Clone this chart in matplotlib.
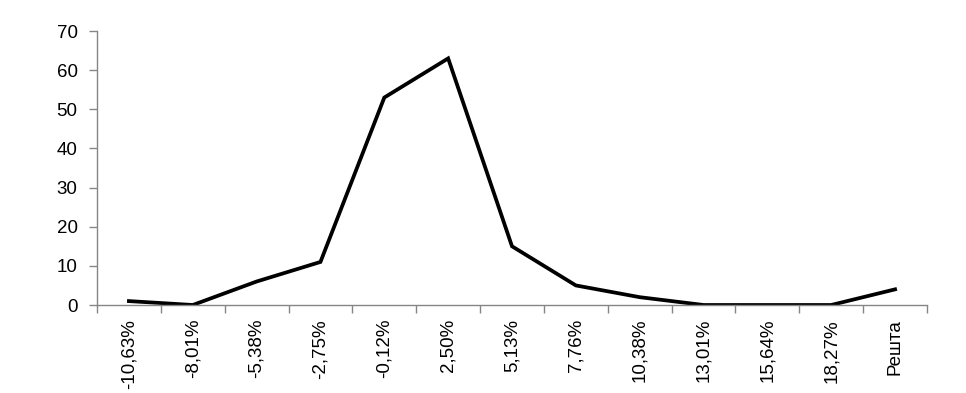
import matplotlib
matplotlib.use("Agg")
import matplotlib.pyplot as plt
import numpy as np

plt.rcParams['font.family'] = ['Liberation Sans', 'DejaVu Sans']

categories = ["-10,63%", "-8,01%", "-5,38%", "-2,75%", "-0,12%", "2,50%", "5,13%",
              "7,76%", "10,38%", "13,01%", "15,64%", "18,27%", "Решта"]
values = [1, 0, 6, 11, 53, 63, 15, 5, 2, 0, 0, 0, 4]

fig = plt.figure(figsize=(9.66, 3.93), dpi=100)
ax = fig.add_axes([97/966, 1-305/393, (927-97)/966, (305-31)/393])

x = np.arange(len(categories))
ax.plot(x, values, color='black', linewidth=2.7, solid_joinstyle='miter')

ax.set_xlim(-0.5, len(categories) - 0.5)
ax.set_ylim(0, 70)
ax.set_yticks(range(0, 71, 10))
ax.set_xticks(x)
ax.set_xticklabels(categories, rotation=90, fontsize=13.5)
ax.set_xticks(np.arange(-0.5, len(categories), 1), minor=True)
ax.tick_params(axis='x', which='major', length=0, pad=10)
ax.tick_params(axis='x', which='minor', length=6, color='#868686', width=1)
ax.tick_params(axis='y', length=6, color='#868686', width=1, labelsize=13.5, pad=8)

for s in ['top', 'right']:
    ax.spines[s].set_visible(False)
for s in ['left', 'bottom']:
    ax.spines[s].set_color('#868686')
    ax.spines[s].set_linewidth(1)

fig.savefig('out.png', dpi=100)
